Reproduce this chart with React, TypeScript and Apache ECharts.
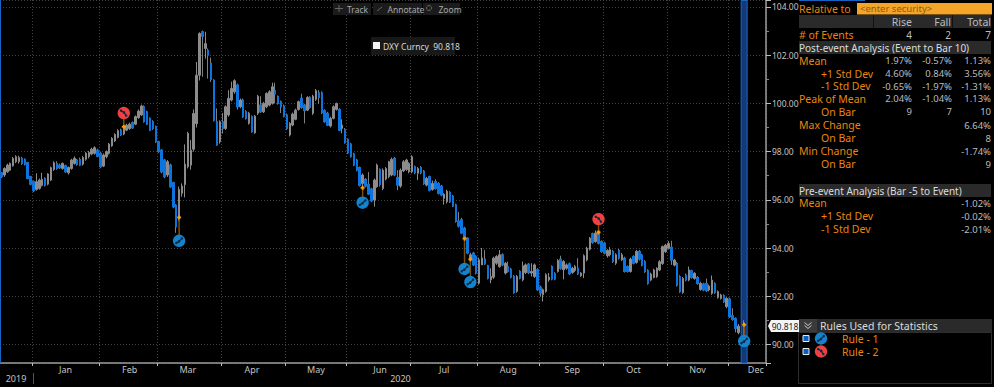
import React, { useEffect, useRef } from "react";
import * as echarts from "echarts";

// [open, close, low, high]
const barsDec2019 = [
[97.12,96.96,96.9,97.15],[97.03,97.30,96.95,97.35],[97.16,97.44,97.12,97.5],[97.23,97.51,97.2,97.55],[97.41,97.72,97.38,97.78],[97.58,97.79,97.52,97.85],[97.58,97.76,97.5,97.83],[97.72,97.51,97.45,97.78],[97.68,97.48,97.42,97.72],[97.54,96.89,96.85,97.58],[96.96,96.65,96.6,97.0],
];
const barsJan = [
[96.75,96.38,96.32,96.8],[96.43,96.75,96.38,97.1],[96.47,96.82,96.42,96.88],[96.6,96.85,96.55,97.12],[96.89,96.61,96.55,96.93],[96.65,97.07,96.6,97.1],[96.82,97.33,96.78,97.38],[97.26,97.54,97.2,97.6],[97.51,97.3,97.25,97.6],[97.44,97.33,97.28,97.5],[97.3,97.51,97.25,97.55],[97.41,97.16,97.12,97.46],[97.12,97.34,97.05,97.38],[97.3,97.65,97.25,97.7],[97.51,97.72,97.46,97.8],[97.65,97.47,97.42,97.7],[97.68,97.44,97.4,97.75],[97.48,97.76,97.42,97.82],[97.68,97.93,97.62,97.98],[97.79,97.97,97.72,98.03],[97.9,98.1,97.85,98.16],[97.93,98.16,97.87,98.22],[98.06,97.81,97.76,98.12],
];
const barsFeb = [
[97.93,97.37,97.33,98.0],[97.4,97.86,97.36,97.92],[97.79,98.0,97.72,98.05],[97.93,98.31,97.88,98.36],[98.24,98.55,98.2,98.6],[98.44,98.71,98.4,98.76],[98.59,98.87,98.55,98.93],[98.89,98.69,98.65,98.95],[98.73,99.03,98.68,99.1],[98.89,99.1,98.85,99.16],[98.96,99.14,98.9,99.2],[99.2,98.98,98.95,99.25],[99.14,99.45,99.1,99.5],[99.41,99.68,99.36,99.75],[99.52,99.89,99.48,99.95],[99.86,99.24,99.2,99.92],[99.65,99.14,99.1,99.7],[99.38,98.89,98.85,99.42],[99.24,98.96,98.9,99.3],[99.03,98.41,98.36,99.08],
];
const barsMar = [
[98.41,98.0,97.95,98.45],[98.06,97.16,97.1,98.1],[97.65,96.96,96.9,97.7],[97.03,97.58,96.95,97.65],[97.44,96.54,96.5,97.5],[96.71,95.71,95.65,96.75],[95.78,94.88,94.63,95.82],[95.27,96.43,95.1,96.55],[96.27,96.57,96.13,96.68],[96.63,97.48,96.1,98.3],[97.37,98.76,97.3,98.82],[97.44,98.06,97.25,98.48],[98.1,99.58,98.0,99.75],[99.16,101.17,99.0,101.72],[101.17,102.9,100.95,102.95],[102.97,102.79,101.1,103.02],[102.28,102.48,101.86,102.97],[102.2,102.0,101.03,102.28],[101.66,100.99,100.89,101.9],[100.96,99.3,99.25,101.0],[99.24,98.27,98.25,99.79],[98.41,99.24,98.33,99.3],
];
const barsApr = [
[99.24,98.96,98.75,99.6],[98.96,99.86,98.9,99.92],[99.52,100.21,99.45,100.55],[100.14,100.62,100.08,100.9],[100.48,100.94,100.4,101.0],[100.76,99.86,99.75,100.82],[99.86,100.14,99.8,100.2],[100.14,99.45,99.4,100.2],[99.65,99.38,99.33,99.72],[99.17,99.59,99.12,99.65],[99.45,98.82,98.78,99.5],[98.78,99.47,98.74,99.52],[99.59,100.3,99.52,100.35],[99.93,99.65,99.6,100.3],[99.65,100.0,99.6,100.06],[99.86,100.41,99.8,100.46],[99.93,100.48,99.88,100.55],[100.0,100.69,99.95,100.86],[100.53,100.39,100.0,100.86],[100.28,100.0,99.95,100.33],[100.07,99.86,99.6,100.12],[99.89,99.47,99.42,99.95],
];
const barsMay = [
[99.52,98.96,98.9,99.58],[98.69,99.17,98.63,99.22],[99.1,99.56,99.05,99.62],[99.34,99.72,99.3,99.78],[99.75,100.07,99.7,100.12],[100.21,99.83,99.78,100.4],[99.93,99.7,99.17,99.98],[99.72,100.25,99.68,100.3],[100.25,99.83,99.78,100.3],[99.59,100.3,99.52,100.36],[100.17,100.53,100.1,100.6],[100.44,100.25,99.98,100.55],[100.44,99.61,99.56,100.5],[99.7,99.24,99.2,99.76],[99.59,99.1,99.06,99.65],[99.06,99.38,99.0,99.45],[99.38,99.86,99.34,99.92],[99.75,100.0,99.7,100.03],[99.75,98.89,98.85,99.8],[98.96,99.1,98.76,99.34],[98.92,98.37,98.33,98.98],
];
const barsJun = [
[98.51,97.95,97.9,98.55],[98.31,97.79,97.75,98.36],[97.9,97.44,97.4,97.95],[97.65,97.23,97.18,97.7],[97.34,96.6,96.55,97.38],[96.68,97.03,96.45,97.1],[96.85,96.57,96.52,96.9],[96.64,96.24,96.2,97.15],[96.45,95.96,95.9,96.5],[95.99,96.82,95.72,96.88],[96.54,97.44,96.5,97.5],[97.26,96.64,96.55,97.3],[96.47,97.23,96.4,97.3],[96.86,97.3,96.8,97.36],[96.96,97.58,96.9,97.62],[97.03,97.68,96.98,97.75],[97.72,97.03,96.98,97.78],[96.93,96.61,96.4,97.23],[96.57,97.23,96.5,97.3],[97.2,97.58,97.15,97.65],[97.26,97.65,97.2,97.7],[97.16,97.51,97.1,97.56],
];
const barsJul = [
[97.16,97.79,97.1,97.85],[97.37,97.12,97.06,97.42],[97.1,97.3,96.82,97.36],[97.34,97.12,97.06,97.4],[97.19,96.68,96.62,97.24],[96.61,96.89,96.56,96.95],[96.96,96.4,96.35,97.0],[96.43,96.68,96.38,96.8],[96.75,96.47,96.42,96.85],[96.68,96.27,96.22,96.74],[96.57,96.2,96.15,96.62],[96.06,96.22,95.8,96.28],[95.92,96.36,95.85,96.42],[96.31,95.92,95.87,96.36],[96.15,95.74,95.7,96.2],[95.79,95.1,95.05,95.84],[95.12,94.91,94.85,95.5],[95.17,94.62,94.58,95.25],[94.82,94.41,94.35,94.88],[94.41,93.79,93.74,94.45],[93.51,93.72,93.4,93.8],[93.79,93.3,93.25,93.84],[93.65,92.96,92.9,93.7],
];
const barsAug = [
[92.54,93.51,92.48,93.6],[93.3,93.58,93.3,94.0],[93.54,93.34,93.3,93.92],[93.26,92.75,92.7,93.3],[92.68,92.82,92.54,93.16],[92.79,93.58,92.72,93.64],[93.37,93.65,93.3,93.7],[93.23,93.72,93.18,93.92],[93.72,93.3,93.25,93.78],[92.96,93.37,92.9,93.42],[93.23,93.03,92.98,93.44],[93.12,92.79,92.74,93.18],[92.82,92.15,92.1,92.88],[92.2,92.82,92.14,92.88],[93.03,92.75,92.7,93.08],[92.68,93.26,92.62,93.44],[92.98,93.3,92.92,93.36],[93.33,92.98,92.92,93.38],[92.96,93.03,92.82,93.37],[92.82,93.3,92.76,93.36],[93.1,92.27,92.22,93.16],
];
const barsSep = [
[92.38,92.13,91.99,92.44],[92.06,92.27,91.78,92.32],[92.2,92.89,92.14,92.95],[92.68,92.79,92.6,92.96],[93.23,92.71,92.66,93.28],[92.93,92.71,92.66,93.0],[93.03,93.48,92.98,93.54],[93.54,93.16,93.1,93.68],[93.1,93.44,92.7,93.5],[93.16,93.3,93.1,93.36],[93.34,92.93,92.88,93.4],[92.98,93.16,92.93,93.22],[93.07,93.23,93.0,93.3],[93.16,92.93,92.88,93.58],[92.85,92.96,92.8,93.0],[92.96,93.68,92.75,93.74],[93.51,93.99,93.45,94.05],[93.95,94.41,93.9,94.46],[94.59,94.23,94.18,94.64],[94.27,94.62,94.22,94.73],[94.69,94.2,94.15,94.8],[94.27,93.86,93.8,94.32],
];
const barsOct = [
[94.2,93.79,93.74,94.26],[93.68,93.9,93.6,93.95],[93.72,93.93,93.65,94.04],[93.86,93.44,93.38,93.92],[93.37,93.72,93.3,93.78],[93.9,93.58,93.52,93.96],[93.51,93.72,93.46,93.8],[93.58,93.03,92.98,93.64],[93.23,93.03,92.98,93.28],[93.03,93.54,92.98,93.6],[93.65,93.37,93.32,93.7],[93.4,93.86,93.35,93.92],[93.86,93.54,93.48,93.92],[93.71,93.29,93.24,93.76],[93.43,93.02,92.97,93.5],[93.06,92.53,92.48,93.12],[92.67,92.92,92.62,92.98],[92.78,93.09,92.74,93.14],[92.81,93.16,92.76,93.2],[93.09,93.43,93.04,93.5],[93.36,94.06,93.3,94.1],[93.85,94.12,93.8,94.17],
];
const barsNov = [
[93.99,94.19,93.94,94.29],[94.03,93.5,93.3,94.3],[93.29,93.5,93.24,93.55],[93.36,92.46,92.4,93.42],[92.81,92.19,92.14,92.87],[92.15,92.74,92.1,92.8],[92.88,92.67,92.62,92.94],[92.67,93.09,92.62,93.23],[93.06,92.78,92.73,93.1],[92.74,92.95,92.69,93.0],[92.78,92.53,92.48,92.84],[92.28,92.53,92.23,92.6],[92.51,92.26,92.21,92.56],[92.53,92.23,92.18,92.73],[92.26,92.42,92.2,92.48],[92.12,92.67,92.06,92.86],[92.53,92.15,92.1,92.58],[91.95,92.19,91.9,92.24],[91.91,92.05,91.86,92.1],[92.02,91.77,91.72,92.08],[91.57,91.91,91.5,91.96],
];
const barsDec2020 = [
[91.88,91.15,91.1,91.94],[91.19,91.04,90.98,91.5],[91.08,90.67,90.5,91.12],[90.49,90.76,90.42,90.85],null,[90.39,90.82,90.35,91.0],
];
const ohlc: (number[] | null)[] = [
  ...barsDec2019, ...barsJan, ...barsFeb, ...barsMar, ...barsApr, ...barsMay, ...barsJun,
  ...barsJul, ...barsAug, ...barsSep, ...barsOct, ...barsNov, ...barsDec2020,
];

const slotCount = 263;
const monthStarts = [11, 34, 54, 76, 98, 119, 141, 164, 185, 207, 229, 250];
const monthLabels = ["Jan", "Feb", "Mar", "Apr", "May", "Jun", "Jul", "Aug", "Sep", "Oct", "Nov", "Dec"];
const monthLabelSlots = [22, 44, 64, 86, 108, 130, 152, 174, 196, 217, 239, 259];
const yearLabels = ["2019", "2020"];
const yearLabelSlots = [5, 137];

// events: bar slot, price at the marker, price at the icon, rule number
const eventSlots = [42, 61, 124, 159, 161, 205, 255];
const eventPrices = [99.03, 95.27, 96.5, 94.39, 93.53, 94.65, 90.818];
const eventIconPrices = [99.6, 94.3, 95.88, 93.13, 92.59, 95.2, 90.14];
const eventRules = [2, 1, 1, 1, 1, 2, 1];
const highlightSlot = 255;
const yMin = 89.23;
const yMax = 104.29;

const statLabels = ["Mean", "+1 Std Dev", "-1 Std Dev", "Peak of Mean", "On Bar", "Max Change", "On Bar", "Min Change", "On Bar"];
const statIndented = [false, true, true, false, true, false, true, false, true];
const statRise = ["1.97%", "4.60%", "-0.65%", "2.04%", "9", "", "", "", ""];
const statFall = ["-0.57%", "0.84%", "-1.97%", "-1.04%", "7", "", "", "", ""];
const statTotal = ["1.13%", "3.56%", "-1.31%", "1.13%", "10", "6.64%", "8", "-1.74%", "9"];
const preLabels = ["Mean", "+1 Std Dev", "-1 Std Dev"];
const preTotal = ["-1.02%", "-0.02%", "-2.01%"];
const eventCounts = ["4", "2", "7"];

const ORANGE = "#e8860f";
const VALUE = "#bcbcbc";
const HEAD = "#2a2a2a";
const FONT = "'Noto Sans'";
const BLUE_ICON = "#1283cc";
const RED_ICON = "#f0403f";
const GLYPH = "#0c2a44";

const txt = (text: string, x: number, y: number, fill: string, size = 10, align = "left", z = 20) => ({
  type: "text", z, silent: true,
  style: { text, x, y, fill, font: `${size}px ${FONT}`, textAlign: align, textVerticalAlign: "middle" },
});
const box = (x: number, y: number, width: number, height: number, fill: string, stroke?: string, z = 10) => ({
  type: "rect", z, silent: true, shape: { x, y, width, height }, style: stroke ? { fill, stroke, lineWidth: 1 } : { fill },
});
const iconParts = (cx: number, cy: number, rule: number, z: number) => {
  const up = rule === 1;
  const a = up ? [cx - 2.8, cy + 2.2] : [cx - 2.8, cy - 2.4];
  const b = up ? [cx + 2.8, cy - 2.4] : [cx + 2.4, cy + 2.6];
  const m = up ? [cx - 0.2, cy + 0.6] : [cx + 0.2, cy - 0.6];
  return [
    { type: "circle", z, silent: true, shape: { cx, cy, r: 6.2 }, style: { fill: up ? BLUE_ICON : RED_ICON } },
    { type: "polyline", z: z + 1, silent: true, shape: { points: [a, m, b] }, style: { fill: "none", stroke: GLYPH, lineWidth: 1.3 } },
    { type: "circle", z: z + 1, silent: true, shape: { cx: a[0], cy: a[1], r: 1.2 }, style: { fill: GLYPH } },
    { type: "circle", z: z + 1, silent: true, shape: { cx: m[0], cy: m[1], r: 1.3 }, style: { fill: GLYPH } },
    { type: "circle", z: z + 1, silent: true, shape: { cx: b[0], cy: b[1], r: 1.2 }, style: { fill: GLYPH } },
  ];
};

function buildGraphics() {
  const g: any[] = [];
  // left edge and year divider
  g.push({ type: "line", z: 9, silent: true, shape: { x1: 0.5, y1: 0, x2: 0.5, y2: 363 }, style: { stroke: "#1565c0", lineWidth: 1 } });
  g.push({ type: "line", z: 9, silent: true, shape: { x1: 33.5, y1: 373, x2: 33.5, y2: 384 }, style: { stroke: "#555", lineWidth: 1 } });
  // toolbar
  g.push(box(333, 3, 38, 12, "#1b1b1b"), box(373, 3, 49, 12, "#1b1b1b"), box(423, 3, 37, 12, "#1b1b1b"));
  g.push(txt("Track", 347, 9, "#a8a8a8", 8.5), txt("Annotate", 387.5, 9, "#a8a8a8", 8.5), txt("Zoom", 438.5, 9, "#a8a8a8", 8.5));
  g.push({ type: "line", z: 20, silent: true, shape: { x1: 335, y1: 8.5, x2: 343, y2: 8.5 }, style: { stroke: "#666", lineWidth: 1 } });
  g.push({ type: "line", z: 20, silent: true, shape: { x1: 339, y1: 5, x2: 339, y2: 12 }, style: { stroke: "#666", lineWidth: 1 } });
  g.push({ type: "line", z: 20, silent: true, shape: { x1: 377, y1: 11, x2: 382, y2: 7 }, style: { stroke: "#666", lineWidth: 1 } });
  g.push({ type: "circle", z: 20, silent: true, shape: { cx: 429, cy: 8, r: 2.5 }, style: { fill: "none", stroke: "#666", lineWidth: 1 } });
  // hover label
  g.push(box(371, 37, 84, 18, "#181818"), box(373, 42, 7, 7, "#f4f4f4", undefined, 20));
  g.push(txt("DXY Curncy  90.818", 383, 46, "#d8d8d8", 8.5));
  // last price tag
  g.push({ type: "polygon", z: 18, silent: true, shape: { points: [[768, 326], [771, 320], [799, 320], [799, 332], [771, 332]] }, style: { fill: "#f4f4f4" } });
  g.push(txt("90.818", 785, 326, "#222", 8.5, "center"));
  // panel header rows
  g.push({ type: "line", z: 20, silent: true, shape: { x1: 799, y1: 0.5, x2: 865, y2: 0.5 }, style: { stroke: "#1565c0", lineWidth: 1 } });
  g.push(txt("Relative to", 799, 8.5, ORANGE, 10.5));
  g.push(box(857, 3, 135, 11.5, "#f4a428"));
  g.push(txt("<enter security>", 860, 8.8, "#8a5b12", 9.5));
  g.push(box(799, 15, 192, 13, HEAD));
  g.push(box(873, 15, 1, 13, "#111", undefined, 11), box(952, 15, 1, 13, "#111", undefined, 11));
  g.push(txt("Rise", 912, 21.5, VALUE, 10.5, "right"), txt("Fall", 951, 21.5, VALUE, 10.5, "right"), txt("Total", 991, 21.5, VALUE, 10.5, "right"));
  g.push(txt("# of Events", 799, 34.5, ORANGE, 10.5));
  g.push(txt(eventCounts[0], 912, 34.5, VALUE, 10, "right"), txt(eventCounts[1], 951, 34.5, VALUE, 10, "right"), txt(eventCounts[2], 991, 34.5, VALUE, 10, "right"));
  g.push(box(799, 41, 192, 13, HEAD));
  g.push(txt("Post-event Analysis (Event to Bar 10)", 799, 47.5, "#dcdcdc", 10));
  const rowY = [60.5, 73.5, 86, 98.5, 111.5, 125, 138, 151, 164];
  statLabels.forEach((label, i) => {
    g.push(txt(label, statIndented[i] ? 821 : 799, rowY[i], ORANGE, 10.5));
    if (statRise[i]) g.push(txt(statRise[i], 912, rowY[i], VALUE, 9.5, "right"));
    if (statFall[i]) g.push(txt(statFall[i], 952, rowY[i], VALUE, 9.5, "right"));
    g.push(txt(statTotal[i], 991, rowY[i], VALUE, 9.5, "right"));
  });
  g.push(box(799, 184, 192, 13, HEAD));
  g.push(txt("Pre-event Analysis (Bar -5 to Event)", 799, 190.5, "#dcdcdc", 10));
  const preY = [203, 216, 229];
  preLabels.forEach((label, i) => {
    g.push(txt(label, i ? 821 : 799, preY[i], ORANGE, 10.5));
    g.push(txt(preTotal[i], 991, preY[i], VALUE, 9.5, "right"));
  });
  // rules block
  g.push(box(799, 319, 193, 13, HEAD));
  g.push(box(799, 319, 18, 13, "#3a3a3a", undefined, 11));
  [322.5, 325.5].forEach((y) => g.push({ type: "polyline", z: 12, silent: true, shape: { points: [[804.5, y], [808, y + 3], [811.5, y]] }, style: { fill: "none", stroke: "#ccc", lineWidth: 1 } }));
  g.push(txt("Rules Used for Statistics", 820, 325.5, "#dcdcdc", 10.5));
  g.push(box(798.5, 332.5, 193, 51, "none", "#2e2e2e", 9));
  [[338.5, 1, "Rule - 1"], [351.5, 2, "Rule - 2"]].forEach(([y, rule, label]: any) => {
    g.push(box(803, y - 3, 6, 6, "#0b5fc4", "#e8e8e8", 12));
    g.push(...iconParts(821, y, rule, 12));
    g.push(txt(label, 842, y, ORANGE, 10.5));
  });
  return g;
}

const renderEvent = (_p: any, api: any) => {
  const [x, y] = api.coord([api.value(0), api.value(1)]);
  const [, iy] = api.coord([api.value(0), api.value(2)]);
  const rule = api.value(3);
  return {
    type: "group",
    children: [
      { type: "line", shape: { x1: x, y1: y, x2: x, y2: iy }, style: { stroke: "#7a4e0c", lineWidth: 1.5 } },
      { type: "line", shape: { x1: x - 2, y1: y, x2: x + 2, y2: y }, style: { stroke: "#ff9a0a", lineWidth: 1.8 } },
      { type: "line", shape: { x1: x, y1: y - 2, x2: x, y2: y + 2 }, style: { stroke: "#ff9a0a", lineWidth: 1.8 } },
      ...iconParts(x, iy, rule, 0).map(({ z, silent, ...rest }: any) => rest),
    ],
  };
};

export default function App() {
  const ref = useRef<HTMLDivElement>(null);
  useEffect(() => {
    document.body.style.margin = "0";
    document.body.style.background = "#000";
    const chart = echarts.init(ref.current!, undefined, { renderer: "svg" });
    const slots = Array.from({ length: slotCount }, (_, i) => `s${i}`);
    const toCandle = (b: number[] | null) => (b ? b : "-");
    const downBodies = ohlc.map((b) => (b && b[0] > b[1] ? [b[0], b[1], b[1], b[0]] : "-"));
    const band = slots.map((_, i) => (i === highlightSlot ? yMax : null));
    chart.setOption({
      animation: false,
      backgroundColor: "#000",
      textStyle: { fontFamily: FONT },
      grid: { left: 0, top: 0, width: 766, height: 363, containLabel: false },
      xAxis: [
        {
          type: "category", data: slots, position: "bottom", boundaryGap: true,
          axisLine: { onZero: false, lineStyle: { color: "#9c9c9c", width: 1.5 } },
          axisTick: { show: true, length: 3, interval: (i: number) => monthStarts.includes(i), lineStyle: { color: "#bbb" } },
          splitLine: { show: true, interval: (i: number) => monthStarts.includes(i), lineStyle: { color: "#404040", type: [1, 2], width: 1 } },
          axisLabel: {
            interval: (i: number) => monthLabelSlots.includes(i),
            formatter: (_v: string, i: number) => monthLabels[monthLabelSlots.indexOf(i)] ?? "",
            color: "#c4c4c4", fontSize: 9, margin: 2, fontFamily: FONT,
          },
        },
        {
          type: "category", data: slots, position: "bottom", offset: 9,
          axisLine: { show: false }, axisTick: { show: false }, splitLine: { show: false },
          axisLabel: {
            interval: (i: number) => yearLabelSlots.includes(i),
            formatter: (_v: string, i: number) => yearLabels[yearLabelSlots.indexOf(i)] ?? "",
            color: "#c4c4c4", fontSize: 9, margin: 2, fontFamily: FONT,
          },
        },
      ],
      yAxis: {
        type: "value", position: "right", min: yMin, max: yMax, splitNumber: 7,
        axisLine: { show: true, onZero: false, lineStyle: { color: "#9c9c9c", width: 1.5 } },
        axisTick: { show: true, length: 5, lineStyle: { color: "#bbb" } },
        minorTick: { show: true, splitNumber: 2, length: 3, lineStyle: { color: "#888" } },
        splitLine: { show: true, lineStyle: { color: "#404040", type: [1, 2], width: 1 } },
        axisLabel: {
          margin: 6, color: "#c4c4c4", fontSize: 8.5, fontFamily: FONT,
          formatter: (v: number) => (Math.abs(v % 2) < 1e-6 ? v.toFixed(2) : ""),
        },
      },
      series: [
        {
          name: "Event window", type: "bar", data: band, barWidth: 7, z: 1, silent: true,
          itemStyle: { color: "#12397a", borderColor: "#1567c8", borderWidth: 1 },
        },
        {
          name: "DXY Curncy", type: "candlestick", data: ohlc.map(toCandle), barWidth: 2, z: 3, silent: true,
          itemStyle: { color: "#8c8c8c", color0: "#0b74de", borderColor: "#8c8c8c", borderColor0: "#808080", borderWidth: 1 },
        },
        {
          name: "Falling bodies", type: "candlestick", data: downBodies, barWidth: 2, z: 4, silent: true,
          itemStyle: { color: "#0b74de", color0: "#0b74de", borderColor: "#0b74de", borderColor0: "#0b74de", borderWidth: 1 },
        },
        {
          name: "Events", type: "custom", z: 5, silent: true, renderItem: renderEvent,
          encode: { x: 0, y: 1 },
          data: eventSlots.map((s, i) => [s, eventPrices[i], eventIconPrices[i], eventRules[i]]),
        },
      ],
      graphic: buildGraphics(),
    });
    return () => chart.dispose();
  }, []);
  return <div ref={ref} style={{ width: 994, height: 387, background: "#000" }} />;
}
